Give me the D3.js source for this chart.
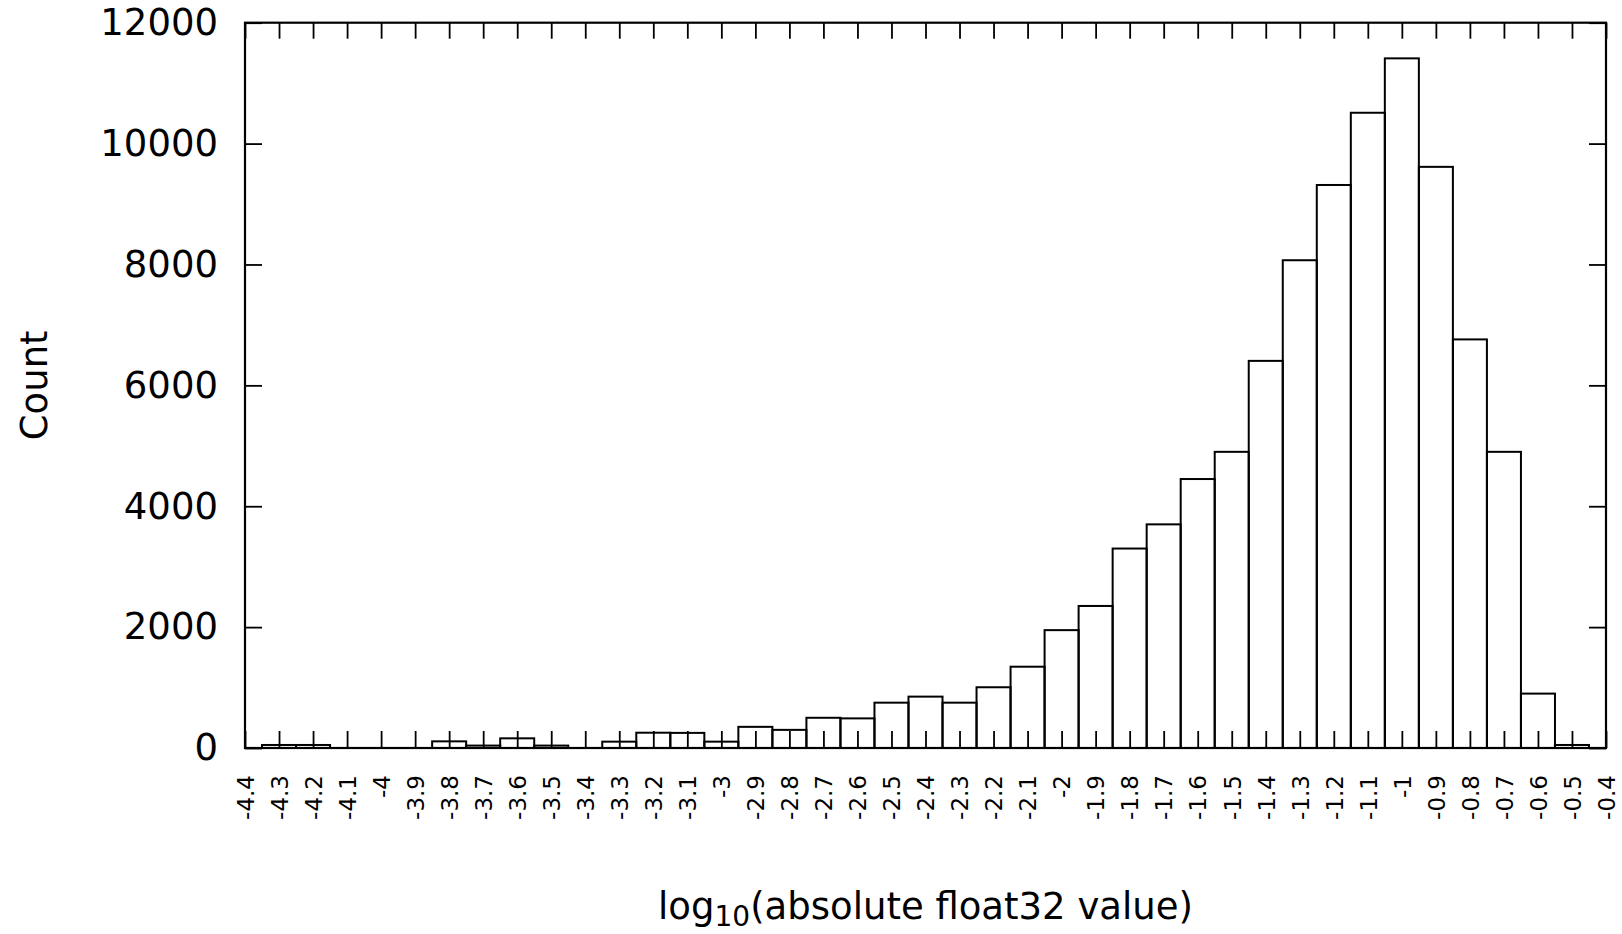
<!DOCTYPE html>
<html>
<head>
<meta charset="utf-8">
<script src="https://cdn.jsdelivr.net/npm/d3@7"></script>
<style>
  body { margin: 0; background: #fff; }
  svg { display: block; font-family: "DejaVu Sans", sans-serif; }
  .tick line { stroke: #000; stroke-width: 1.8; }
</style>
</head>
<body>
<div id="chart"></div>
<script>
// Histogram bin centres (log10 of |value|) and counts
var binCenters = [-4.3, -4.2, -4.1, -4.0, -3.9, -3.8, -3.7, -3.6, -3.5, -3.4,
                  -3.3, -3.2, -3.1, -3.0, -2.9, -2.8, -2.7, -2.6, -2.5, -2.4,
                  -2.3, -2.2, -2.1, -2.0, -1.9, -1.8, -1.7, -1.6, -1.5, -1.4,
                  -1.3, -1.2, -1.1, -1.0, -0.9, -0.8, -0.7, -0.6, -0.5];
var counts = [50, 50, 0, 0, 0, 110, 40, 160, 40, 0,
              105, 253, 250, 105, 350, 300, 500, 490, 750, 850,
              750, 1005, 1345, 1950, 2350, 3300, 3700, 4450, 4900, 6405,
              8070, 9315, 10510, 11410, 9615, 6760, 4900, 900, 50];
var binWidth = 0.1;

// tick labels
var xTicks = [-4.4, -4.3, -4.2, -4.1, -4, -3.9, -3.8, -3.7, -3.6, -3.5, -3.4,
              -3.3, -3.2, -3.1, -3, -2.9, -2.8, -2.7, -2.6, -2.5, -2.4,
              -2.3, -2.2, -2.1, -2, -1.9, -1.8, -1.7, -1.6, -1.5, -1.4,
              -1.3, -1.2, -1.1, -1, -0.9, -0.8, -0.7, -0.6, -0.5, -0.4];
var yTicks = [0, 2000, 4000, 6000, 8000, 10000, 12000];

var svgWidth = 1622;
var svgHeight = 934;

var margin = { top: 22.7, right: 16, bottom: 186, left: 245 };
var width = svgWidth - margin.left - margin.right;
var height = svgHeight - margin.top - margin.bottom;

var svg = d3.select("#chart").append("svg")
    .attr("width", svgWidth)
    .attr("height", svgHeight);

var chartGroup = svg.append("g")
    .attr("transform", `translate(${margin.left}, ${margin.top})`);

var xScale = d3.scaleLinear().domain([-4.4, -0.4]).range([0, width]);
var yScale = d3.scaleLinear().domain([0, 12000]).range([height, 0]);

// bars
chartGroup.selectAll("rect.bar")
    .data(binCenters)
    .enter()
    .append("rect")
    .attr("class", "bar")
    .attr("x", d => xScale(d - binWidth / 2))
    .attr("width", d => xScale(d + binWidth / 2) - xScale(d - binWidth / 2))
    .attr("y", (d, i) => yScale(counts[i]))
    .attr("height", (d, i) => yScale(0) - yScale(counts[i]))
    .attr("fill", "none")
    .attr("stroke", "#000")
    .attr("stroke-width", 2);

// bottom axis, inward ticks, vertical labels
var bottomAxis = d3.axisBottom(xScale)
    .tickValues(xTicks)
    .tickSizeInner(-17)
    .tickSizeOuter(0)
    .tickFormat(d => String(d));

var xAxisG = chartGroup.append("g")
    .attr("transform", `translate(0, ${height})`)
    .call(bottomAxis);
xAxisG.select(".domain").remove();
xAxisG.selectAll("text")
    .attr("transform", "rotate(-90)")
    .attr("x", -27)
    .attr("y", 0)
    .attr("dy", "0.36em")
    .attr("font-size", "23px")
    .attr("font-family", "DejaVu Sans, sans-serif")
    .attr("fill", "#000")
    .style("text-anchor", "end");

// top axis (ticks only)
var topAxis = d3.axisTop(xScale)
    .tickValues(xTicks)
    .tickSizeInner(-16)
    .tickSizeOuter(0)
    .tickFormat("");
chartGroup.append("g").call(topAxis).select(".domain").remove();

// left axis
var leftAxis = d3.axisLeft(yScale)
    .tickValues(yTicks)
    .tickSizeInner(-17)
    .tickSizeOuter(0)
    .tickPadding(27)
    .tickFormat(d3.format("d"));
var yAxisG = chartGroup.append("g").call(leftAxis);
yAxisG.select(".domain").remove();
yAxisG.selectAll("text")
    .attr("font-size", "37px")
    .attr("font-family", "DejaVu Sans, sans-serif")
    .attr("fill", "#000");

// right axis (ticks only)
var rightAxis = d3.axisRight(yScale)
    .tickValues(yTicks)
    .tickSizeInner(-17)
    .tickSizeOuter(0)
    .tickFormat("");
chartGroup.append("g")
    .attr("transform", `translate(${width}, 0)`)
    .call(rightAxis)
    .select(".domain").remove();

// frame
chartGroup.append("rect")
    .attr("x", 0)
    .attr("y", 0)
    .attr("width", width)
    .attr("height", height)
    .attr("fill", "none")
    .attr("stroke", "#000")
    .attr("stroke-width", 2.2);

// axis labels
svg.append("text")
    .attr("transform", `translate(47, ${margin.top + height / 2}) rotate(-90)`)
    .attr("text-anchor", "middle")
    .attr("font-size", "37px")
    .text("Count");

var xLabel = svg.append("text")
    .attr("x", margin.left + width / 2)
    .attr("y", 919)
    .attr("text-anchor", "middle")
    .attr("font-size", "37px");
xLabel.append("tspan").text("log");
xLabel.append("tspan").attr("font-size", "28px").attr("dy", 7).text("10");
xLabel.append("tspan").attr("dy", -7).text("(absolute float32 value)");
</script>
</body>
</html>
